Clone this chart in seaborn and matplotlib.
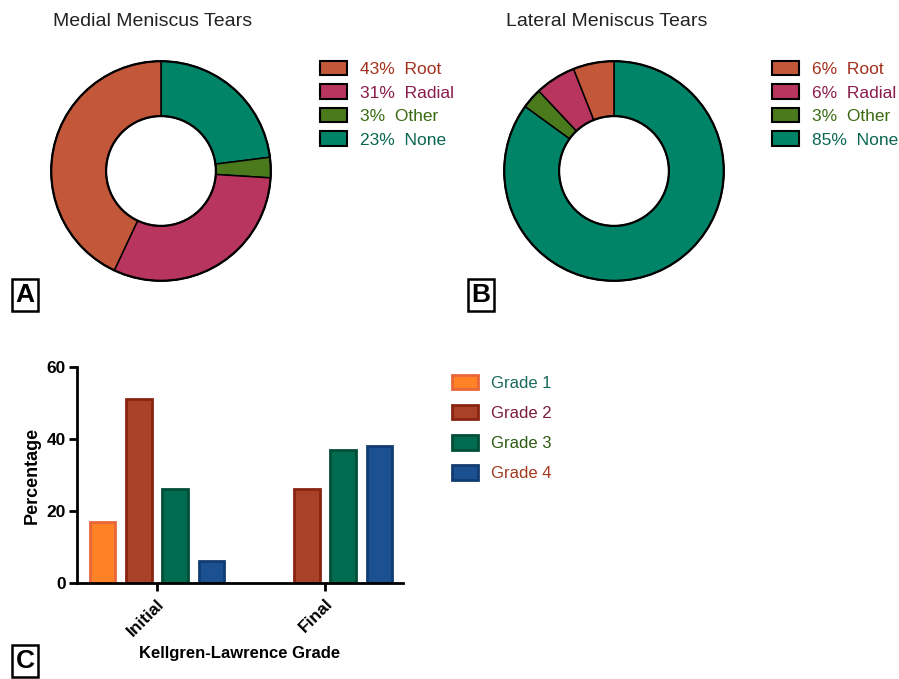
import numpy as np
import pandas as pd
import matplotlib
matplotlib.use("Agg")
import matplotlib.pyplot as plt
import seaborn as sns
from matplotlib.patches import Patch

# data
tear_types = ["Root", "Radial", "Other", "None"]
medial_pct = [43, 31, 3, 23]
lateral_pct = [6, 6, 3, 85]
tear_colors = ["#c2573a", "#b8355e", "#4a7a1c", "#008468"]
tear_text_colors = ["#a3301c", "#8a1c4c", "#3a6a12", "#0a6650"]

stages = ["Initial", "Final"]
grades = ["Grade 1", "Grade 2", "Grade 3", "Grade 4"]
initial_pct = [17, 51, 26, 6]
final_pct = [0, 26, 37, 38]
grade_fill = ["#ff8226", "#a84128", "#006b4f", "#1b5091"]
grade_edge = ["#e8663a", "#8a2412", "#004d38", "#123c72"]
grade_text_colors = ["#1a6a5c", "#7c1c3e", "#2e5a12", "#a33a20"]

sns.set_theme(style="ticks")
plt.rcParams['font.family'] = ['Liberation Sans', 'DejaVu Sans']

W, H = 899, 679
fig = plt.figure(figsize=(W / 100, H / 100), dpi=100)


def px_axes(x0, y0, x1, y1):
    return fig.add_axes([x0 / W, 1 - y1 / H, (x1 - x0) / W, (y1 - y0) / H])


def donut(ax, vals, title, title_x, leg_x):
    # clockwise from top: None, Other, Radial, Root
    order = [3, 2, 1, 0]
    ax.pie([vals[i] for i in order], colors=[tear_colors[i] for i in order],
           startangle=90, counterclock=False, radius=1,
           wedgeprops=dict(width=0.5, edgecolor="black", linewidth=1.1))
    ax.add_patch(plt.Circle((0, 0), 1, fill=False, ec="black", lw=1.6))
    ax.add_patch(plt.Circle((0, 0), 0.5, fill=False, ec="black", lw=1.6))
    ax.set_xlim(-1.02, 1.02)
    ax.set_ylim(-1.02, 1.02)
    ax.set_aspect("equal")
    ax.axis("off")
    fig.text(title_x / W, 1 - 21 / H, title, ha="center", va="center",
             fontsize=14, color="#222222")
    handles = [Patch(facecolor=c, edgecolor="black", linewidth=1.5) for c in tear_colors]
    labels = [f"{v}%  {n}" for v, n in zip(vals, tear_types)]
    leg = fig.legend(handles, labels, loc="upper left",
                     bbox_to_anchor=(leg_x / W, 1 - 61 / H), frameon=False,
                     fontsize=12.5, handlelength=1.55, handleheight=0.9,
                     handletextpad=0.75, labelspacing=0.42, borderpad=0,
                     borderaxespad=0)
    for t, c in zip(leg.get_texts(), tear_text_colors):
        t.set_color(c)


axA = px_axes(49, 59, 273, 283)
donut(axA, medial_pct, "Medial Meniscus Tears", 153, 320)
axB = px_axes(502, 59, 726, 283)
donut(axB, lateral_pct, "Lateral Meniscus Tears", 607, 772)

# bar chart
df = pd.DataFrame({
    "Stage": np.repeat(stages, len(grades)),
    "Grade": grades * len(stages),
    "Percentage": initial_pct + final_pct,
})
axC = px_axes(77, 367, 403, 583)
sns.barplot(data=df, x="Stage", y="Percentage", hue="Grade", order=stages,
            hue_order=grades, palette=grade_fill, width=0.86, gap=0.3,
            saturation=1, legend=False, ax=axC)
for i, cont in enumerate(axC.containers):
    for bar in cont:
        bar.set_edgecolor(grade_edge[i])
        bar.set_linewidth(2)
        if bar.get_height() == 0:
            bar.set_visible(False)

axC.set_xlim(-0.476, 1.464)
axC.set_ylim(0, 60)
axC.set_yticks([0, 20, 40, 60])
sns.despine(ax=axC)
for s in ["left", "bottom"]:
    axC.spines[s].set_linewidth(2)
    axC.spines[s].set_color("black")
axC.tick_params(axis="both", width=2, length=6, color="black", labelsize=12.5,
                labelcolor="black")
axC.tick_params(axis="y", pad=2)
for lab in axC.get_yticklabels():
    lab.set_fontweight("bold")
for lab in axC.get_xticklabels():
    lab.set_fontweight("bold")
    lab.set_rotation(45)
    lab.set_ha("right")
    lab.set_rotation_mode("anchor")
axC.set_ylabel("Percentage", fontsize=13, fontweight="bold", labelpad=4,
               color="black")
axC.set_xlabel("Kellgren-Lawrence Grade", fontsize=12, fontweight="bold",
               labelpad=5, color="black")

handles = [Patch(facecolor=f, edgecolor=e, linewidth=2) for f, e in zip(grade_fill, grade_edge)]
leg = fig.legend(handles, grades, loc="upper left", bbox_to_anchor=(452 / W, 1 - 375 / H),
                 frameon=False, fontsize=12, handlelength=1.55, handleheight=0.95,
                 handletextpad=0.8, labelspacing=0.85, borderpad=0, borderaxespad=0)
for t, c in zip(leg.get_texts(), grade_text_colors):
    t.set_color(c)

# panel letters
for letter, x, y in [("A", 25, 295), ("B", 481, 295), ("C", 25, 661)]:
    fig.text(x / W, 1 - y / H, letter, ha="center", va="center", fontsize=19,
             fontweight="bold", color="black",
             bbox=dict(boxstyle="square,pad=0.15", fc="white", ec="black", lw=1.8))

fig.savefig("out.png", dpi=100)
